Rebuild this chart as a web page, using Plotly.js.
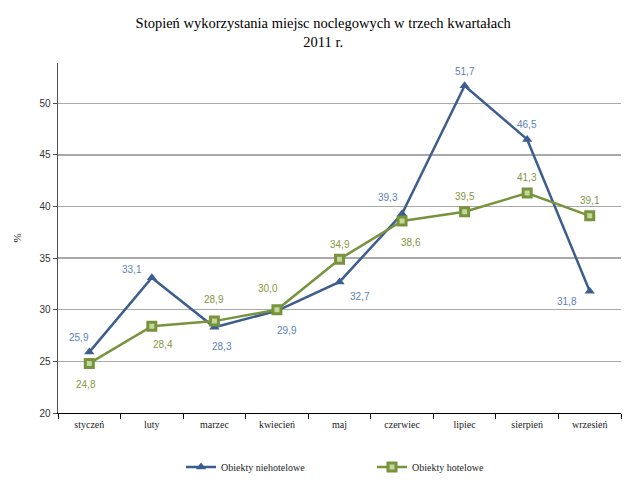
<!DOCTYPE html>
<html>
<head>
<meta charset="utf-8">
<script src="https://cdn.plot.ly/plotly-3.0.1.min.js"></script>
<style>html,body{margin:0;padding:0;background:#fff;}#chart{width:640px;height:485px;}</style>
</head>
<body>
<div id="chart"></div>
<script>
var months = ["styczeń","luty","marzec","kwiecień","maj","czerwiec","lipiec","sierpień","wrzesień"];
var niehotelowe = [25.9, 33.1, 28.3, 29.9, 32.7, 39.3, 51.7, 46.5, 31.8];
var hotelowe = [24.8, 28.4, 28.9, 30.0, 34.9, 38.6, 39.5, 41.3, 39.1];
var seriesNames = ["Obiekty niehotelowe", "Obiekty hotelowe"];

// label offsets in pixels (dx right, dy down)
var offBlue = [[-10,-15],[-20,-8],[8,19],[10,20],[20,15],[-14,-16],[0,-14],[0,-15],[-23,10]];
var offGreen = [[-3,21],[11,18],[0,-22],[-9,-21],[0,-15],[9,22],[0,-15],[0,-16],[0,-15]];

var blue = "#3c5d8e", blueLbl = "#5b82b8";
var green = "#77933c", greenLbl = "#86963f";

function fmt(v){ return v.toFixed(1).replace(".", ","); }

var traces = [
  {x: months, y: niehotelowe, name: seriesNames[0], type: "scatter", mode: "lines+markers",
   line: {color: blue, width: 2.5},
   marker: {symbol: "triangle-up", size: 9, color: blue}},
  {x: months, y: hotelowe, name: seriesNames[1], type: "scatter", mode: "lines+markers",
   line: {color: green, width: 2.5},
   marker: {symbol: "square", size: 8, color: "#c4d79b", line: {color: green, width: 3}}}
];

var annotations = [];
function addLabels(vals, offs, col){
  vals.forEach(function(v, i){
    annotations.push({x: months[i], y: v, xref: "x", yref: "y", text: fmt(v), showarrow: false,
      xshift: offs[i][0], yshift: -offs[i][1],
      font: {family: "Liberation Sans, Arial, sans-serif", size: 10, color: col}});
  });
}
addLabels(niehotelowe, offBlue, blueLbl);
addLabels(hotelowe, offGreen, greenLbl);

var layout = {
  width: 640, height: 485,
  margin: {l: 58, r: 19, t: 63, b: 72, autoexpand: false},
  paper_bgcolor: "#ffffff", plot_bgcolor: "#ffffff",
  title: {text: "Stopień wykorzystania miejsc noclegowych w trzech kwartałach<br>2011 r.",
          font: {family: "Liberation Serif, Times New Roman, serif", size: 14.5, color: "#000"},
          x: 0.505, xanchor: "center", y: 0.942, yanchor: "top", yref: "container", automargin: false},
  showlegend: true,
  legend: {orientation: "h", x: 0.2185, xanchor: "left", xref: "paper", y: 0.0371, yanchor: "middle", yref: "container",
           font: {family: "Liberation Serif, Times New Roman, serif", size: 10, color: "#222"},
           entrywidth: 146, entrywidthmode: "pixels", bgcolor: "rgba(0,0,0,0)"},
  xaxis: {type: "category", range: [-0.5, 8.5], showgrid: false, zeroline: false,
          showline: true, linecolor: "#000", linewidth: 1.3,
          ticks: "outside", tickson: "boundaries", ticklen: 5, tickcolor: "#000", tickwidth: 1,
          ticklabelstandoff: 2,
          tickfont: {family: "Liberation Serif, Times New Roman, serif", size: 10, color: "#222"},
          fixedrange: true},
  yaxis: {range: [20, 53.9], tick0: 20, dtick: 5, showgrid: true, gridcolor: "#a9a9a9", gridwidth: 1.3,
          zeroline: false, showline: true, linecolor: "#505050", linewidth: 1.5,
          ticks: "outside", ticklen: 4, tickcolor: "#505050", tickwidth: 1,
          tickfont: {family: "Liberation Sans, Arial, sans-serif", size: 10, color: "#333"},
          title: {text: "%", standoff: 15, font: {family: "Liberation Serif, Times New Roman, serif", size: 11, color: "#222"}},
          fixedrange: true},
  annotations: annotations
};

Plotly.newPlot("chart", traces, layout, {displayModeBar: false, staticPlot: true});
</script>
</body>
</html>
